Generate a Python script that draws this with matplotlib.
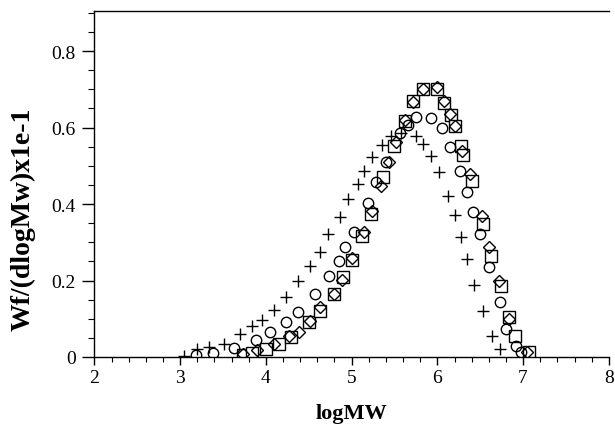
import numpy as np
import matplotlib
matplotlib.use('Agg')
import matplotlib.pyplot as plt
from matplotlib.ticker import MultipleLocator, FixedLocator

plt.rcParams['font.family'] = ['Liberation Serif', 'DejaVu Serif']

# plus series
plus_x = [3.04, 3.20, 3.34, 3.51, 3.70, 3.84, 3.96, 4.10, 4.24, 4.38, 4.52, 4.63,
          4.73, 4.86, 4.96, 5.07, 5.15, 5.24, 5.36, 5.46, 5.58, 5.75, 5.83, 5.92,
          6.02, 6.12, 6.20, 6.28, 6.35, 6.43, 6.53, 6.64, 6.73]
plus_y = [0.003, 0.021, 0.025, 0.034, 0.060, 0.080, 0.098, 0.123, 0.156, 0.200, 0.239, 0.275,
          0.322, 0.365, 0.413, 0.452, 0.487, 0.522, 0.554, 0.579, 0.587, 0.579, 0.557, 0.526,
          0.485, 0.422, 0.371, 0.315, 0.256, 0.189, 0.119, 0.056, 0.021]

# circle series
circ_x = [3.19, 3.38, 3.63, 3.88, 4.05, 4.24, 4.38, 4.57, 4.74, 4.85, 4.92, 5.03,
          5.19, 5.29, 5.40, 5.57, 5.66, 5.75, 5.93, 6.05, 6.15, 6.26, 6.34, 6.42,
          6.50, 6.60, 6.73, 6.80, 6.92, 6.97]
circ_y = [0.005, 0.010, 0.023, 0.045, 0.066, 0.091, 0.117, 0.164, 0.213, 0.252, 0.287, 0.326,
          0.404, 0.457, 0.509, 0.586, 0.607, 0.627, 0.625, 0.598, 0.548, 0.487, 0.432, 0.378,
          0.322, 0.236, 0.143, 0.073, 0.030, 0.012]

# square series
sq_x = [3.73, 3.84, 4.00, 4.15, 4.29, 4.50, 4.63, 4.79, 4.90, 5.00, 5.12, 5.23,
        5.37, 5.50, 5.62, 5.72, 5.83, 5.99, 6.08, 6.16, 6.20, 6.28, 6.30, 6.40,
        6.53, 6.63, 6.74, 6.84, 6.91, 7.07]
sq_y = [0.005, 0.010, 0.021, 0.034, 0.051, 0.091, 0.121, 0.165, 0.208, 0.254, 0.317, 0.374,
        0.470, 0.553, 0.618, 0.670, 0.702, 0.701, 0.664, 0.633, 0.603, 0.553, 0.528, 0.461,
        0.348, 0.265, 0.186, 0.104, 0.056, 0.012]

# diamond series
dia_x = [3.73, 3.90, 4.10, 4.27, 4.39, 4.52, 4.63, 4.79, 4.89, 5.00, 5.15, 5.24,
         5.34, 5.44, 5.52, 5.62, 5.72, 5.83, 5.99, 6.08, 6.15, 6.20, 6.29, 6.38,
         6.52, 6.60, 6.72, 6.84, 7.05]
dia_y = [0.008, 0.019, 0.034, 0.054, 0.066, 0.095, 0.130, 0.165, 0.202, 0.258, 0.328, 0.383,
         0.448, 0.511, 0.563, 0.620, 0.668, 0.701, 0.705, 0.670, 0.635, 0.603, 0.539, 0.478,
         0.369, 0.287, 0.200, 0.099, 0.012]

y_ticks = [0, 0.2, 0.4, 0.6, 0.8]
y_tick_labels = ['0', '0.2', '0.4', '0.6', '0.8']
x_ticks = [2, 3, 4, 5, 6, 7, 8]

fig = plt.figure(figsize=(6.15, 4.27), dpi=100)
ax = fig.add_axes([0.1535, 0.1616, 0.8365, 0.8104])

ax.plot(sq_x, sq_y, 's', ms=8, mfc='white', mec='black', mew=1.0, ls='none')
ax.plot(dia_x, dia_y, 'D', ms=6.5, mfc='none', mec='black', mew=1.0, ls='none')
ax.plot(circ_x, circ_y, 'o', ms=7.5, mfc='none', mec='black', mew=1.0, ls='none')
ax.plot(plus_x, plus_y, '+', ms=8, mec='black', mew=1.0, ls='none')

ax.set_xlim(2, 8)
ax.set_ylim(0, 0.905)
ax.xaxis.set_major_locator(FixedLocator(x_ticks))
ax.xaxis.set_minor_locator(MultipleLocator(0.2))
ax.yaxis.set_major_locator(FixedLocator(y_ticks))
ax.yaxis.set_minor_locator(MultipleLocator(0.05))
ax.set_yticklabels(y_tick_labels)

ax.spines['right'].set_visible(False)
for s in ['left', 'bottom', 'top']:
    ax.spines[s].set_linewidth(1.0)

ax.tick_params(axis='x', which='major', direction='out', length=6, width=1, pad=3, labelsize=14)
ax.tick_params(axis='x', which='minor', direction='out', length=3.5, width=0.8)
ax.tick_params(axis='y', which='major', direction='out', length=8.5, width=1, pad=5, labelsize=14)
ax.tick_params(axis='y', which='minor', direction='out', length=4.3, width=0.8)

ax.set_xlabel('logMW', fontsize=16, fontweight='bold', labelpad=12)
ax.set_ylabel('Wf/(dlogMw)x1e-1', fontsize=20, fontweight='bold')
ax.yaxis.set_label_coords(-0.115, 0.40)

fig.savefig('out.png', dpi=100)
